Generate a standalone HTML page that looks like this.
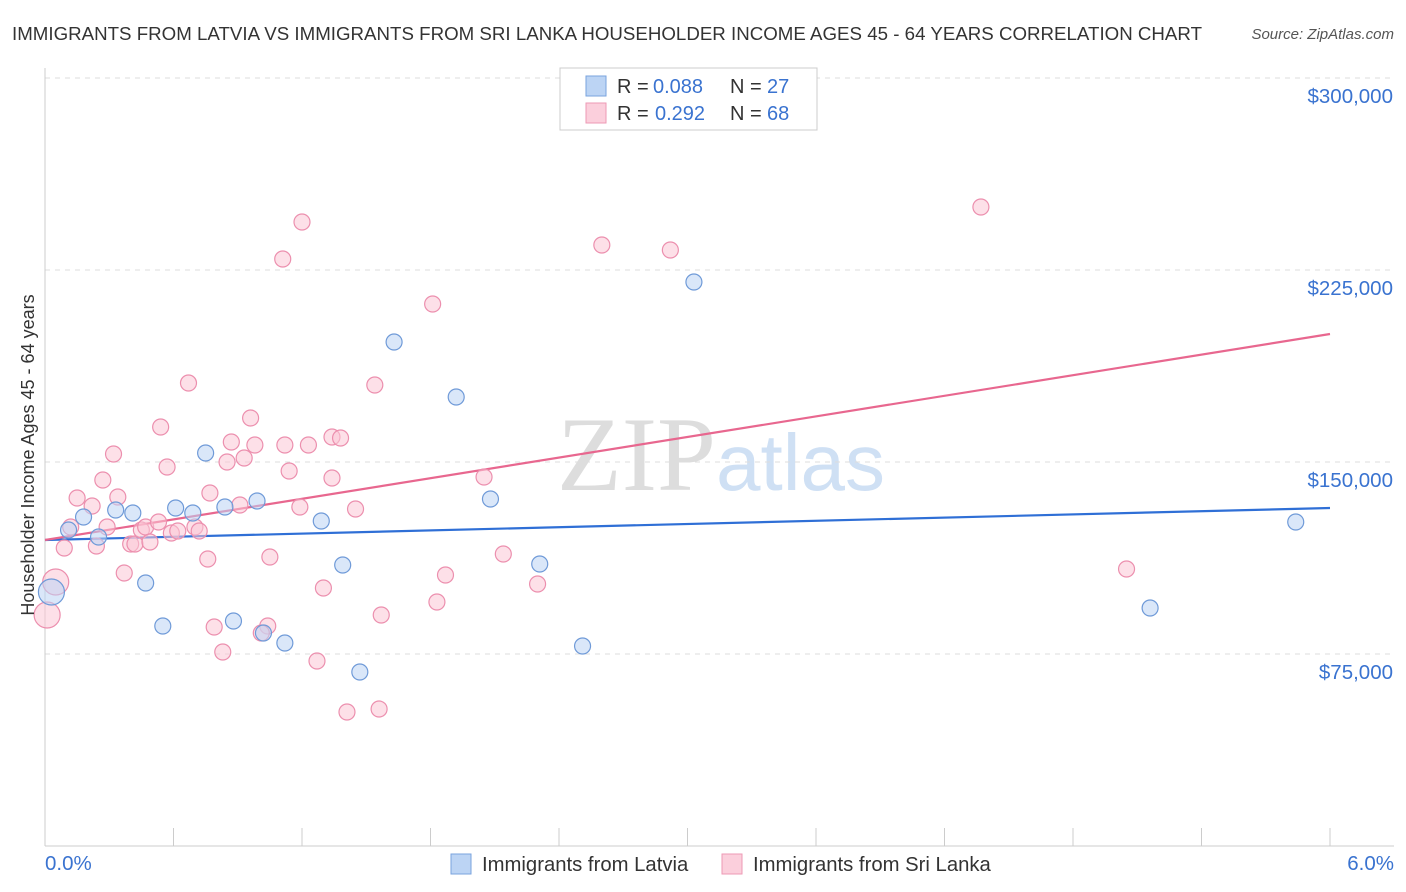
<!DOCTYPE html>
<html><head><meta charset="utf-8"><style>
body{margin:0;background:#fff;font-family:"Liberation Sans",sans-serif;}
#wrap{position:relative;width:1406px;height:892px;overflow:hidden;}
</style></head><body>
<div id="wrap">
<svg id="svg" width="1406" height="892" xmlns="http://www.w3.org/2000/svg">
<text x="12" y="40" font-size="18.7" fill="#333" textLength="1190">IMMIGRANTS FROM LATVIA VS IMMIGRANTS FROM SRI LANKA HOUSEHOLDER INCOME AGES 45 - 64 YEARS CORRELATION CHART</text>
<text x="1394" y="39" font-size="15" fill="#555" font-style="italic" text-anchor="end">Source: ZipAtlas.com</text>
<text x="716" y="490" font-size="106" fill="#ddd" text-anchor="end" font-family="Liberation Serif,serif">ZIP</text>
<text x="716" y="490" font-size="80" fill="#cfe0f4">atlas</text>
<g id="grid"></g><g id="axes"></g><g id="lines"></g><g id="pts"></g>
<text x="34" y="455" font-size="18" fill="#333" text-anchor="middle" transform="rotate(-90 34 455)">Householder Income Ages 45 - 64 years</text>
<g>
<rect x="560" y="68" width="257" height="62" fill="#fff" stroke="#ccc"/>
<rect x="586" y="76" width="20" height="20" fill="#bcd4f4" stroke="#7aa3de"/>
<rect x="586" y="103" width="20" height="20" fill="#fbcfdc" stroke="#ee9ab5"/>
<text x="617" y="93" font-size="20" fill="#333">R =</text>
<text x="653" y="93" font-size="20" fill="#3a73d0">0.088</text>
<text x="730" y="93" font-size="20" fill="#333">N =</text>
<text x="767" y="93" font-size="20" fill="#3a73d0">27</text>
<text x="617" y="120" font-size="20" fill="#333">R =</text>
<text x="655" y="120" font-size="20" fill="#3a73d0">0.292</text>
<text x="730" y="120" font-size="20" fill="#333">N =</text>
<text x="767" y="120" font-size="20" fill="#3a73d0">68</text>
</g>
<g>
<rect x="451" y="854" width="20" height="20" fill="#bcd4f4" stroke="#7aa3de"/>
<text x="482" y="871" font-size="20.3" fill="#333">Immigrants from Latvia</text>
<rect x="722" y="854" width="20" height="20" fill="#fbcfdc" stroke="#ee9ab5"/>
<text x="753" y="871" font-size="20.3" fill="#333">Immigrants from Sri Lanka</text>
</g>
</svg></div>
<script>
const yTicks=[75000,150000,225000,300000];
const yTickLabels=["$75,000","$150,000","$225,000","$300,000"];
const latviaX=[0.03,0.11,0.18,0.25,0.33,0.41,0.47,0.55,0.61,0.69,0.75,0.84,0.88,0.99,1.02,1.12,1.29,1.39,1.47,1.63,1.92,2.08,2.31,2.51,3.03,5.16,5.84];
const latviaY=[99219,123438,128516,120703,131250,130078,102734,85938,132031,130078,153516,132422,87891,134766,83203,79297,126953,109766,67969,196875,175391,135547,110156,78125,220313,92969,126563];
const sriX=[0.01,0.05,0.09,0.12,0.15,0.22,0.24,0.27,0.29,0.32,0.34,0.37,0.40,0.42,0.45,0.47,0.49,0.53,0.54,0.57,0.59,0.62,0.67,0.70,0.72,0.76,0.77,0.79,0.83,0.85,0.87,0.91,0.93,0.96,0.98,1.05,1.04,1.01,1.11,1.12,1.14,1.19,1.20,1.23,1.27,1.30,1.34,1.34,1.38,1.41,1.45,1.54,1.56,1.57,1.81,1.87,1.83,2.05,2.14,2.30,2.60,2.92,4.37,5.05];
const sriY=[90234,103125,116406,124609,135938,132813,117188,142969,124609,153125,136328,106641,117969,117969,123438,124609,118750,126563,163672,148047,122266,123047,180859,124609,123047,112109,137891,85547,75781,150000,157813,133203,151563,167188,156641,112891,85938,83203,229297,156641,146484,132422,243750,156641,72266,100781,143750,159766,159375,52344,131641,180078,53516,90234,211719,105859,95313,144141,114063,102344,234766,232813,249609,108203];
const latviaTrend=[119531,132031];
const sriTrend=[119531,200000];
const X=v=>45+v/6*1285, Y=v=>846-v*384/150000;
const NS="http://www.w3.org/2000/svg";
function mk(p,t,a){const e=document.createElementNS(NS,t);for(const k in a)e.setAttribute(k,a[k]);p.appendChild(e);return e;}
const grid=document.getElementById('grid'),axes=document.getElementById('axes'),lines=document.getElementById('lines'),pts=document.getElementById('pts');
yTicks.forEach((t,i)=>{
 const l=mk(grid,'line',{x1:45,x2:1394,y1:Y(t),y2:Y(t),stroke:'#ddd','stroke-dasharray':'5,5'});
 
 
 const tx=mk(axes,'text',{x:1393,y:Y(t)+25,'font-size':20.5,fill:'#3a73d0','text-anchor':'end'});
 tx.textContent=yTickLabels[i];
 
 
});
const ax=mk(axes,'line',{x1:45,x2:1394,y1:846,y2:846,stroke:'#ccc'});


const ay=mk(axes,'line',{x1:45,x2:45,y1:68,y2:846,stroke:'#ccc'});


for(let i=0;i<=10;i++){const t=mk(axes,'line',{x1:X(i*0.6),x2:X(i*0.6),y1:828,y2:846,stroke:'#ccc'});
 
 }
[["0.0%",45,'start'],["6.0%",1394,'end']].forEach(a=>{const t=mk(axes,'text',{x:a[1],y:870,'font-size':20.5,fill:'#3a73d0','text-anchor':a[2]});t.textContent=a[0];
 
 });
function dots(xs,ys,fill,stroke,name){xs.forEach((x,i)=>{const r=(i<(name==='sri-lanka-point'?2:1))?13:8;
 const c=mk(pts,'circle',{cx:X(x),cy:Y(ys[i]),r:r,fill:fill,stroke:stroke,'stroke-width':1.2,'fill-opacity':0.55});
 
 });}
dots(sriX,sriY,'#fbc6d6','#ec8fae','sri-lanka-point');
dots(latviaX,latviaY,'#bcd4f4','#6f9ad8','latvia-point');
const l1=mk(lines,'line',{x1:X(0),y1:Y(latviaTrend[0]),x2:X(6),y2:Y(latviaTrend[1]),stroke:'#2f6fd6','stroke-width':2.2});


const l2=mk(lines,'line',{x1:X(0),y1:Y(sriTrend[0]),x2:X(6),y2:Y(sriTrend[1]),stroke:'#e8678f','stroke-width':2.2});


</script>
</body></html>
